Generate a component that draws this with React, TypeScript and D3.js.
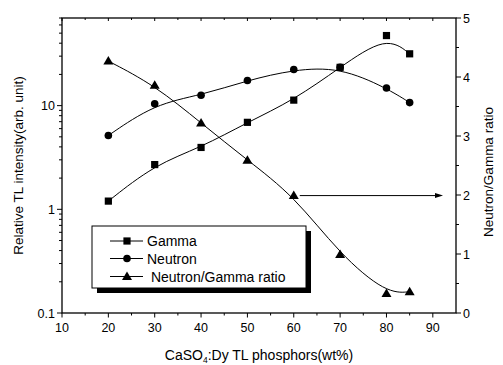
import * as d3 from "d3";
import React from "react";

// phosphor content (wt%)
const content = [20, 30, 40, 50, 60, 70, 80, 85];
// relative TL intensity (arb. unit)
const gamma = [1.2, 2.7, 3.95, 6.9, 11.3, 23.4, 47.4, 31.6];
const neutron = [5.15, 10.4, 12.6, 17.5, 22.3, 23.4, 14.8, 10.7];
// neutron / gamma ratio (right axis)
const ratio = [4.27, 3.86, 3.22, 2.59, 1.99, 0.99, 0.33, 0.36];

const xTicks = [10, 20, 30, 40, 50, 60, 70, 80, 90];
const yTicks = [0.1, 1, 10];
const y2Ticks = [0, 1, 2, 3, 4, 5];
const legendLabels = ["Gamma", "Neutron", " Neutron/Gamma ratio"];

const W = 503;
const H = 365;
const margin = { top: 18, right: 47, bottom: 52, left: 62 };
const FONT = "Liberation Sans, Arial, sans-serif";

function Marker({ type, x, y }: { type: string; x: number; y: number }) {
  if (type === "square") return <rect x={x - 3.6} y={y - 3.6} width={7.2} height={7.2} fill="#000" />;
  if (type === "circle") return <circle cx={x} cy={y} r={3.8} fill="#000" />;
  return <path d={`M${x},${y - 5} L${x + 5},${y + 3.5} L${x - 5},${y + 3.5} Z`} fill="#000" />;
}

export default function App() {
  const x0 = margin.left;
  const x1 = W - margin.right;
  const y0 = H - margin.bottom;
  const y1 = margin.top;

  const x = d3.scaleLinear().domain([10, 95]).range([x0, x1]);
  const y = d3.scaleLog().domain([0.1, 70]).range([y0, y1]);
  const y2 = d3.scaleLinear().domain([0, 5]).range([y0, y1]);

  const lineLog = d3
    .line<number>()
    .x((d, i) => x(content[i]))
    .y((d) => y(d))
    .curve(d3.curveBasis);
  const lineRatio = d3
    .line<number>()
    .x((d, i) => x(content[i]))
    .y((d) => y2(d))
    .curve(d3.curveBasis);

  const xMinor = d3.range(15, 95, 10);
  const yMinor: number[] = [];
  [0.1, 1, 10].forEach((dec) => {
    for (let k = 2; k <= 9; k++) if (dec * k <= 70) yMinor.push(dec * k);
  });
  const y2Minor = d3.range(0.5, 5, 1);

  const series = [
    { vals: gamma, type: "square", line: lineLog, sc: y },
    { vals: neutron, type: "circle", line: lineLog, sc: y },
    { vals: ratio, type: "triangle", line: lineRatio, sc: y2 },
  ];

  // legend box
  const lg = { x: 92, y: 226, w: 214, h: 62 };
  const rowY = [241, 258.5, 276.5];
  const types = ["square", "circle", "triangle"];

  const arrowY = y2(ratio[4]);
  const ax0 = x(60) + 6;
  const ax1 = x(92.2);

  return (
    <svg
      width={W}
      height={H}
      style={{ position: "absolute", left: 0, top: 0, background: "#fff" }}
      fontFamily={FONT}
    >
      <rect width={W} height={H} fill="#fff" />

      {/* curves */}
      {series.map((s, i) => (
        <path key={"l" + i} d={s.line(s.vals) || ""} fill="none" stroke="#000" strokeWidth={1} />
      ))}
      {/* markers */}
      {series.map((s, i) =>
        s.vals.map((v, j) => <Marker key={`m${i}-${j}`} type={s.type} x={x(content[j])} y={s.sc(v)} />)
      )}

      {/* arrow to right axis */}
      <line x1={ax0} x2={ax1 - 6} y1={arrowY} y2={arrowY} stroke="#000" strokeWidth={1} />
      <path d={`M${ax1},${arrowY} L${ax1 - 8},${arrowY - 2.5} L${ax1 - 8},${arrowY + 2.5} Z`} fill="#000" />

      {/* frame */}
      <rect x={x0} y={y1} width={x1 - x0} height={y0 - y1} fill="none" stroke="#000" strokeWidth={1.3} />

      {/* bottom axis */}
      {xTicks.map((t) => (
        <g key={"xt" + t}>
          <line x1={x(t)} x2={x(t)} y1={y0} y2={y0 + 4.5} stroke="#000" />
          <line x1={x(t)} x2={x(t)} y1={y1} y2={y1 + 3} stroke="#000" />
          <text x={x(t)} y={y0 + 19} textAnchor="middle" fontSize={12.5}>
            {t}
          </text>
        </g>
      ))}
      {xMinor.map((t) => (
        <g key={"xm" + t}>
          <line x1={x(t)} x2={x(t)} y1={y0} y2={y0 + 2.5} stroke="#000" />
          <line x1={x(t)} x2={x(t)} y1={y1} y2={y1 + 2} stroke="#000" />
        </g>
      ))}

      {/* left log axis */}
      {yTicks.map((t) => (
        <g key={"yt" + t}>
          <line x1={x0 - 5} x2={x0} y1={y(t)} y2={y(t)} stroke="#000" />
          <text x={x0 - 7} y={y(t) + 4.5} textAnchor="end" fontSize={12.5}>
            {t}
          </text>
        </g>
      ))}
      {yMinor.map((t) => (
        <line key={"ym" + t} x1={x0 - 3} x2={x0} y1={y(t)} y2={y(t)} stroke="#000" />
      ))}

      {/* right axis */}
      {y2Ticks.map((t) => (
        <g key={"y2t" + t}>
          <line x1={x1} x2={x1 + 5} y1={y2(t)} y2={y2(t)} stroke="#000" />
          <text x={x1 + 7} y={y2(t) + 4.5} fontSize={12.5}>
            {t}
          </text>
        </g>
      ))}
      {y2Minor.map((t) => (
        <line key={"y2m" + t} x1={x1} x2={x1 + 3} y1={y2(t)} y2={y2(t)} stroke="#000" />
      ))}

      {/* axis titles */}
      <text x={(x0 + x1) / 2} y={360} textAnchor="middle" fontSize={14}>
        CaSO
        <tspan fontSize={8.5} dy={3}>
          4
        </tspan>
        <tspan dy={-3}>:Dy TL phosphors(wt%)</tspan>
      </text>
      <text
        transform={`translate(23,${(y0 + y1) / 2}) rotate(-90)`}
        textAnchor="middle"
        fontSize={13.5}
      >
        Relative TL intensity(arb. unit)
      </text>
      <text transform={`translate(493,172) rotate(-90)`} textAnchor="middle" fontSize={13.5}>
        Neutron/Gamma ratio
      </text>

      {/* legend */}
      <rect x={lg.x + 5} y={lg.y + 5} width={lg.w} height={lg.h} fill="#000" />
      <rect x={lg.x} y={lg.y} width={lg.w} height={lg.h} fill="#fff" stroke="#000" strokeWidth={1} />
      {legendLabels.map((lab, i) => (
        <g key={"lg" + i}>
          <line x1={110} x2={143} y1={rowY[i]} y2={rowY[i]} stroke="#000" />
          <Marker type={types[i]} x={127} y={rowY[i]} />
          <text x={147} y={rowY[i] + 5} fontSize={14} style={{ whiteSpace: "pre" }}>
            {lab}
          </text>
        </g>
      ))}
    </svg>
  );
}
